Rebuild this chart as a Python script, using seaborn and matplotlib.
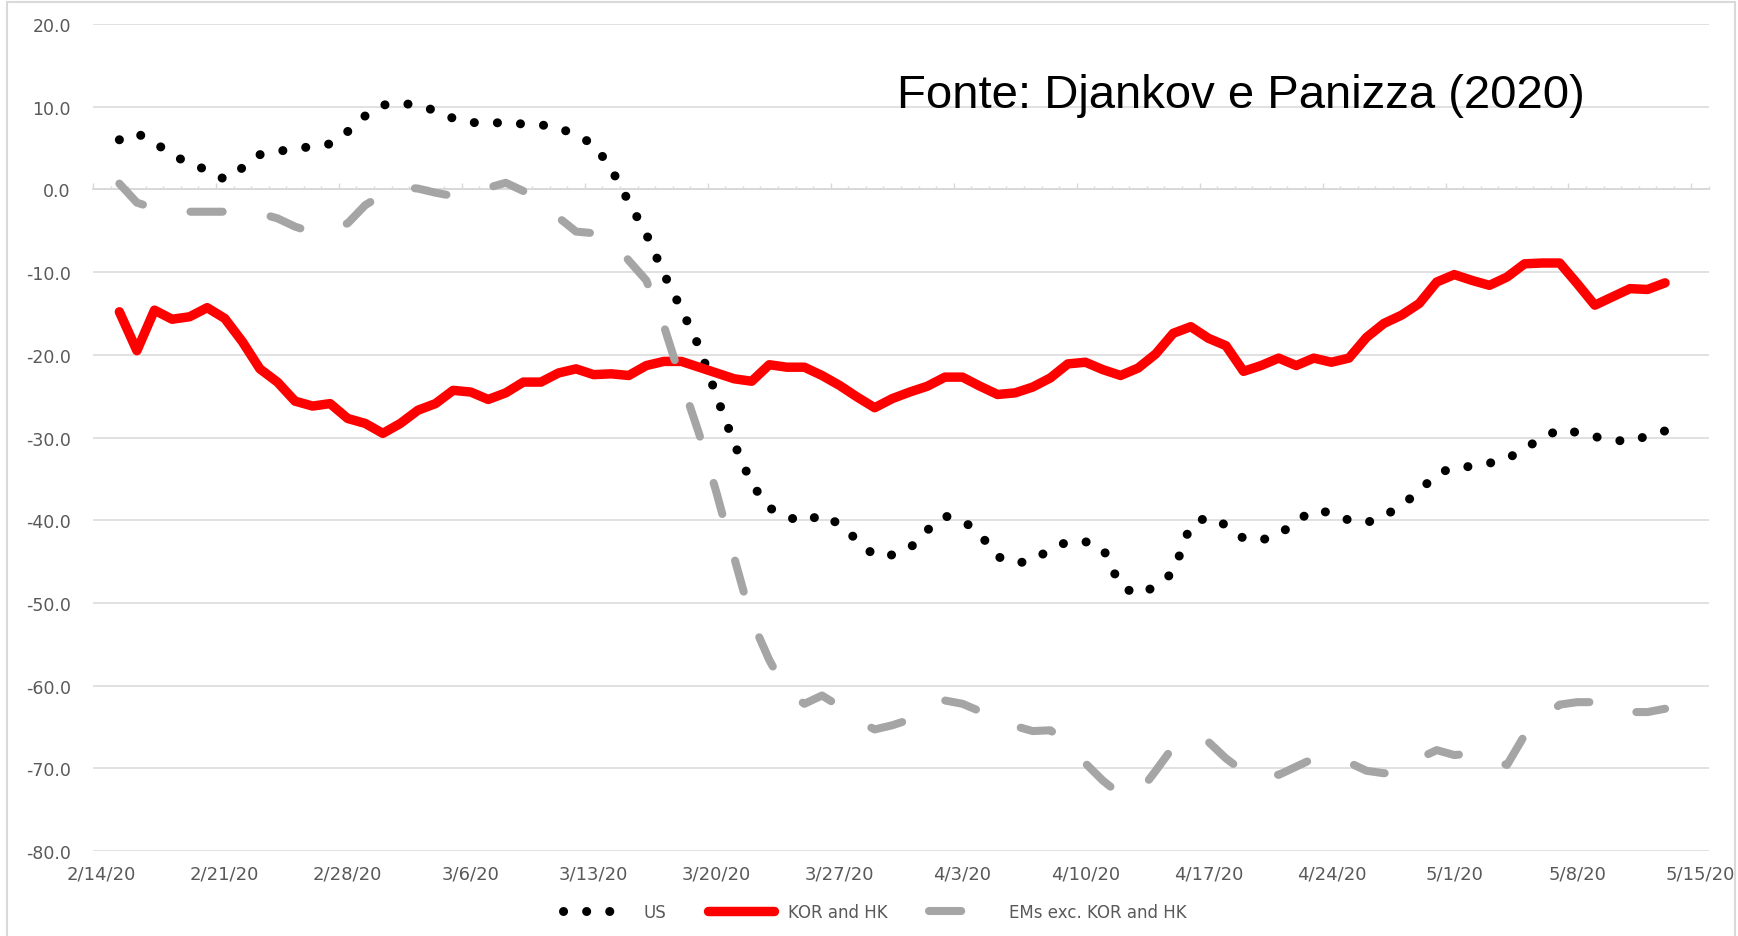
import matplotlib
matplotlib.use("Agg")
import matplotlib.pyplot as plt
from matplotlib.ticker import FixedLocator
from matplotlib.patches import Rectangle
import matplotlib.dates as mdates
import seaborn as sns
import pandas as pd

# daily values, 2/15/20 .. 5/13/20
start_date = "2020-02-15"
end_date = "2020-05-13"

us = [6.0, 6.8, 5.6, 4.3, 3.0, 2.4, 1.2, 2.6, 4.2, 4.6,
      4.9, 5.2, 5.5, 7.0, 8.9, 10.2, 10.4, 10.2, 9.5, 8.6,
      8.1, 8.0, 8.1, 7.9, 7.8, 7.5, 6.5, 5.5, 2.5, -1.5,
      -5.4, -10.2, -14.5, -19.0, -25.0, -30.7, -35.6, -38.5, -39.6, -40.2,
      -39.3, -40.5, -42.4, -44.3, -44.2, -43.4, -41.2, -39.5, -40.0, -41.7,
      -44.4, -45.2, -44.9, -43.5, -42.6, -42.6, -43.4, -48.0, -49.0, -48.0,
      -46.3, -40.5, -39.6, -40.6, -42.2, -42.4, -41.8, -40.1, -38.8, -39.1,
      -40.0, -40.3, -39.5, -38.2, -36.5, -34.4, -33.6, -33.5, -33.1, -32.6,
      -31.3, -30.1, -29.0, -29.4, -29.9, -30.3, -30.5, -29.8, -29.2]

kor_hk = [-14.8, -19.5, -14.6, -15.7, -15.4, -14.3, -15.6, -18.4, -21.7, -23.3,
          -25.6, -26.2, -25.9, -27.7, -28.3, -29.5, -28.3, -26.7, -25.9, -24.3,
          -24.5, -25.4, -24.6, -23.3, -23.3, -22.2, -21.7, -22.4, -22.3, -22.5,
          -21.3, -20.8, -20.8, -21.5, -22.2, -22.9, -23.2, -21.2, -21.5, -21.5,
          -22.5, -23.7, -25.1, -26.4, -25.3, -24.5, -23.8, -22.7, -22.7, -23.8,
          -24.8, -24.6, -23.9, -22.8, -21.1, -20.9, -21.8, -22.5, -21.6, -19.9,
          -17.4, -16.6, -18.0, -18.9, -22.0, -21.3, -20.4, -21.3, -20.4, -20.9,
          -20.4, -17.9, -16.2, -15.2, -13.8, -11.2, -10.3, -11.0, -11.6, -10.6,
          -9.0, -8.9, -8.9, -11.4, -14.0, -13.0, -12.0, -12.1, -11.3]

ems = [0.7, -1.6, -2.3, -2.6, -2.7, -2.7, -2.7, -2.8, -2.9, -3.5,
       -4.5, -5.2, -4.9, -4.1, -1.9, -0.6, 0.3, 0.1, -0.4, -0.8,
       -0.5, 0.2, 0.8, -0.2, -1.8, -3.4, -5.1, -5.3, -6.0, -8.6,
       -11.0, -16.5, -23.2, -29.5, -36.7, -44.5, -52.1, -56.9, -60.8, -62.2,
       -61.2, -62.5, -64.2, -65.3, -64.8, -64.1, -62.9, -61.8, -62.2, -63.1,
       -64.0, -64.9, -65.5, -65.4, -67.0, -69.4, -71.5, -73.2, -73.1, -70.3,
       -67.4, -66.2, -66.8, -68.8, -70.4, -70.1, -70.8, -69.8, -68.8, -69.2,
       -69.3, -70.3, -70.6, -70.2, -68.8, -67.8, -68.4, -68.2, -68.8, -69.6,
       -66.0, -64.0, -62.3, -62.0, -62.0, -62.6, -63.2, -63.2, -62.8]

series_names = ["US", "KOR and HK", "EMs exc. KOR and HK"]
axis_start = "2020-02-14"
axis_end = "2020-05-15"
y_ticks = list(range(-80, 21, 10))

dates = pd.date_range(start_date, end_date, freq="D")
df = pd.DataFrame({"date": dates, series_names[0]: us,
                   series_names[1]: kor_hk, series_names[2]: ems})

sns.set_style("white")
plt.rcParams["font.family"] = ["DejaVu Sans"]

grid_col = "#D9D9D9"
text_col = "#595959"

fig = plt.figure(figsize=(17.38, 9.37), dpi=100)
ax = fig.add_axes([93 / 1738, 1 - 852 / 937, (1709 - 93) / 1738, (852 - 25) / 937])

sns.lineplot(data=df, x="date", y="US", ax=ax, color="black", lw=6.5,
             linestyle=(0, (0.01, 2.55)), dash_capstyle="round",
             label=series_names[0])
sns.lineplot(data=df, x="date", y="KOR and HK", ax=ax, color="#FF0000", lw=6.8,
             solid_capstyle="round", solid_joinstyle="round",
             label=series_names[1])
sns.lineplot(data=df, x="date", y="EMs exc. KOR and HK", ax=ax, color="#A5A5A5",
             lw=5.8, linestyle=(0, (4.0, 6.0)), dash_capstyle="round",
             dash_joinstyle="round", label=series_names[2])

handles, labels = ax.get_legend_handles_labels()
if ax.get_legend() is not None:
    ax.get_legend().remove()

# axes
x0 = pd.Timestamp(axis_start) - pd.Timedelta(hours=12)
x1 = pd.Timestamp(axis_end) + pd.Timedelta(hours=12)
ax.set_xlim(x0, x1)
ax.set_ylim(-80, 20)
ax.set_xlabel("")
ax.set_ylabel("")
for s in ax.spines.values():
    s.set_visible(False)

ax.set_yticks(y_ticks)
ax.set_yticklabels([f"{v:.1f}" for v in y_ticks])
ax.yaxis.grid(True, color=grid_col, lw=1.1)
ax.xaxis.grid(False)
ax.set_axisbelow(True)

label_dates = pd.date_range(axis_start, axis_end, freq="7D")
ax.set_xticks(label_dates)
ax.set_xticklabels([f"{d.month}/{d.day}/{d:%y}" for d in label_dates])
ax.tick_params(axis="x", length=0, pad=10, labelsize=13, labelcolor=text_col)
ax.tick_params(axis="y", length=0, pad=16, labelsize=12.5, labelcolor=text_col)

# horizontal axis line at zero with day ticks
zero_pos = (0 - (-80)) / (20 - (-80))
sec = ax.secondary_xaxis(zero_pos)
day_bounds = pd.date_range(x0, x1, freq="D")
week_bounds = [d - pd.Timedelta(hours=12) for d in label_dates]
sec.xaxis.set_major_locator(FixedLocator(mdates.date2num(week_bounds)))
sec.xaxis.set_minor_locator(FixedLocator(mdates.date2num(day_bounds)))
sec.tick_params(axis="x", which="major", direction="out", length=4.5,
                width=1, color=grid_col, labeltop=False, labelbottom=False)
sec.tick_params(axis="x", which="minor", direction="out", length=2.5,
                width=1, color=grid_col)
for s in sec.spines.values():
    s.set_color(grid_col)
    s.set_linewidth(1.3)

fig.text(897 / 1738, 1 - 108 / 937, "Fonte: Djankov e Panizza (2020)",
         fontsize=34, family="Liberation Sans", color="black",
         ha="left", va="baseline")

fig.legend(handles, labels, loc="center", bbox_to_anchor=(875 / 1738, 1 - 913 / 937),
           ncol=3, frameon=False, fontsize=12, handlelength=4,
           handletextpad=0.8, columnspacing=2.5, labelcolor=text_col)

# chart border: left, top and right edges only (bottom runs off the image)
fig.patches.append(Rectangle((7.5 / 1738, -0.05), (1735 - 7.5) / 1738, 1.05 - 3 / 937,
                             transform=fig.transFigure, fill=False,
                             ec=grid_col, lw=1.5))

fig.savefig("out.png", dpi=100)
